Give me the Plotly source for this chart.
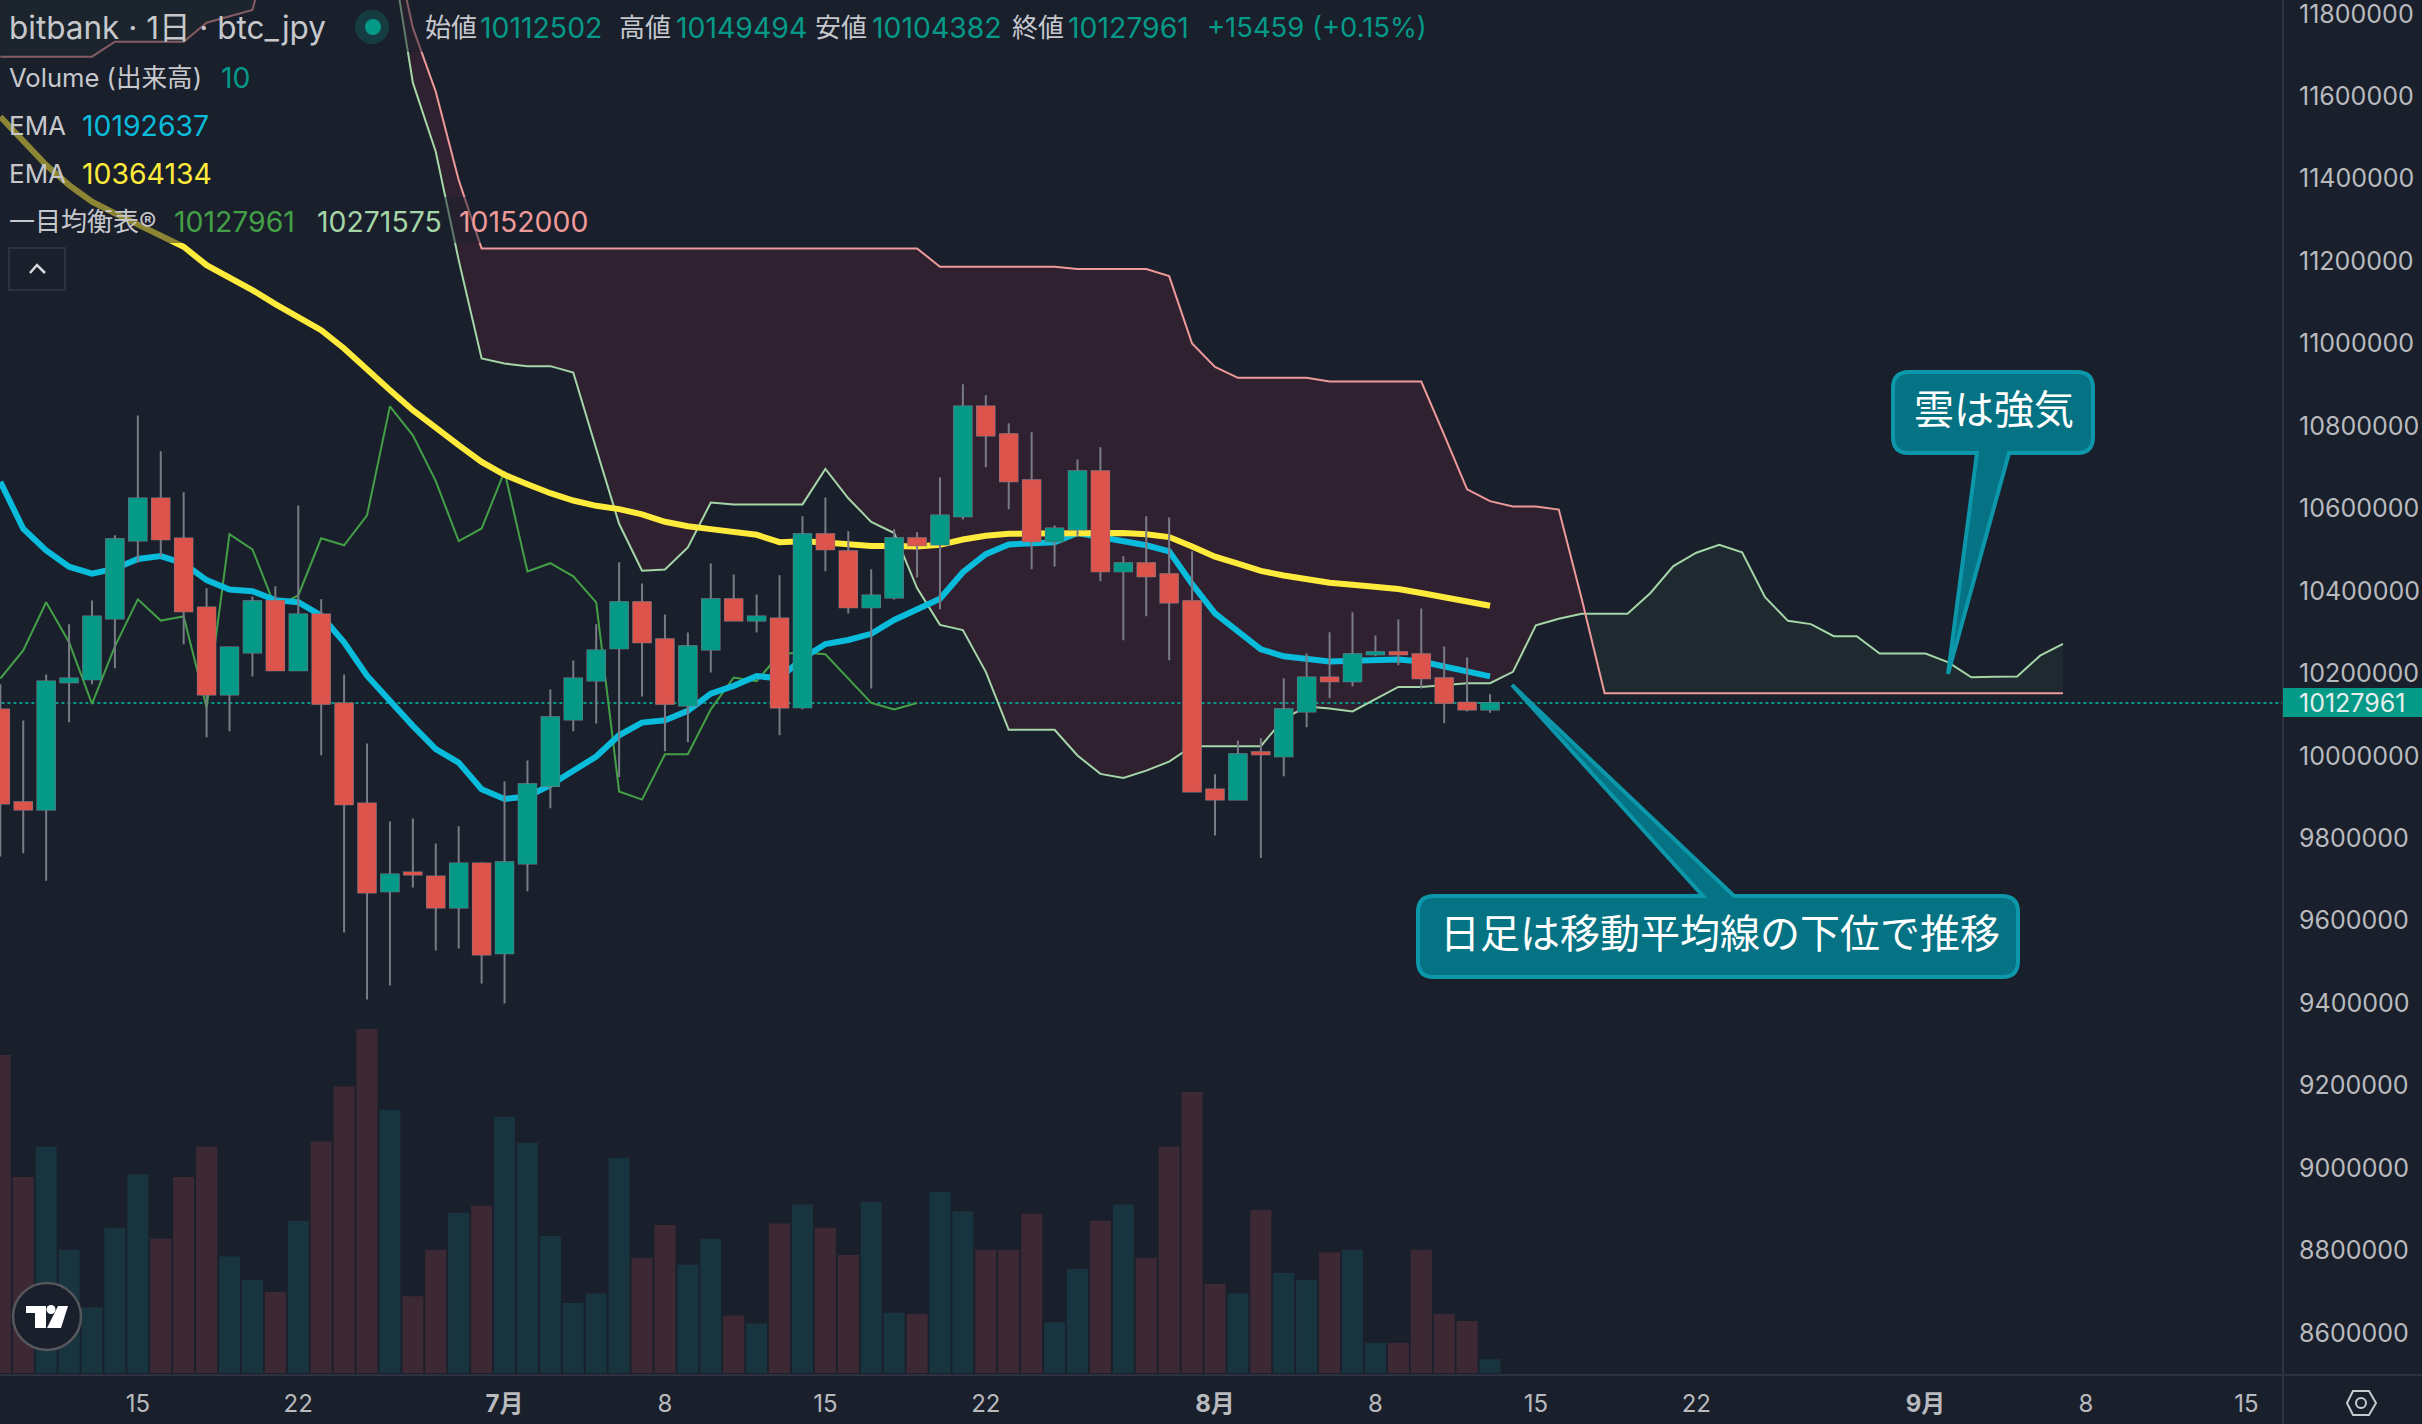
import numpy as np
import pandas as pd
import plotly.graph_objects as go

# Daily candles, 9 June to 13 August
opens = [
    10112100, 9887200, 9869400, 10178500, 10185400, 10333000, 10522200, 10624200, 10527200, 10359700, 10148700,
    10250800, 10375600, 10207200, 10342900, 10127000, 9884300, 9671300, 9716800, 9706900, 9631700, 9738600,
    9520700, 9738600, 9926900, 10088300, 10182400, 10260700, 10372600, 10282500, 10122000, 10257700, 10379600,
    10328000, 10333000, 10117500, 10537600, 10496000, 10360200, 10384000, 10527700, 10512800, 10581100, 10847600,
    10780300, 10668300, 10520700, 10549400, 10690100, 10447400, 10467200, 10440500, 10375100,
    9918400, 9893700, 10008600, 9998700, 10107600, 10189900, 10180900, 10246300, 10251300, 10246300, 10187900,
    10128400, 10112502,
]
highs = [
    10173500, 10085400, 10197300, 10319100, 10376600, 10535100, 10825300, 10739100, 10639100, 10406300, 10265600,
    10386500, 10411300, 10607400, 10379600, 10197300, 10029900, 9840700, 9847600, 9787200, 9828800, 9741600,
    9937800, 9988300, 10160600, 10231000, 10319100, 10469700, 10418200, 10342900, 10299300, 10466700, 10440000,
    10391400, 10438000, 10581100, 10626700, 10544500, 10452400, 10549400, 10542500, 10675300, 10901100, 10874400,
    10807000, 10785200, 10559400, 10718800, 10748600, 10484100, 10581100, 10578200, 10496000,
    9955100, 10037300, 10042300, 10187900, 10248300, 10299800, 10348400, 10291900, 10330500, 10357300, 10265100,
    10238400, 10149494,
]
lows = [
    9755500, 9763400, 9697000, 10081400, 10173500, 10212100, 10468700, 10483600, 10270600, 10044700, 10059600,
    10192300, 10206200, 10206200, 10001200, 9571200, 9408800, 9442500, 9680200, 9527600, 9532600, 9447400,
    9398900, 9671300, 9872400, 10059600, 10078400, 9948600, 10143800, 10011100, 10032800, 10202200, 10327000,
    10299300, 10049700, 10112600, 10447400, 10345400, 10163100, 10379100, 10432600, 10355300, 10573200, 10700000,
    10598000, 10452400, 10459300, 10533600, 10423600, 10280000, 10338500, 10231500, 9911500,
    9806500, 9891700, 9752000, 9950100, 10069000, 10139300, 10168100, 10241400, 10219600, 10163100, 10078900,
    10107600, 10104382,
]
closes = [
    9884300, 9869400, 10180400, 10187400, 10338000, 10525200, 10624200, 10525200, 10350800, 10148700, 10262700,
    10374600, 10207200, 10342900, 10126000, 9882300, 9668300, 9711900, 9711900, 9631700, 9738600, 9517700,
    9741600, 9930800, 10093300, 10187400, 10255700, 10372600, 10275500, 10126000, 10265600, 10379600, 10328000,
    10338000, 10117000, 10537600, 10500900, 10360200, 10389000, 10527700, 10510800, 10583100, 10847600, 10777300,
    10666300, 10520700, 10551400, 10690100, 10447400, 10467200, 10435500, 10372100, 9913500,
    9893700, 10003600, 10003600, 10112600, 10189900, 10180900, 10246300, 10251300, 10246300, 10187900, 10128400,
    10112502, 10127961,
]
volumes = [
    232, 143, 165, 90, 48, 106, 145, 98, 143, 165, 85, 68, 59, 111, 169, 209, 251, 192, 56, 90, 117, 122,
    187, 168, 100, 51, 58, 157, 84, 108, 79, 98, 42, 36, 109, 123, 106, 86, 125, 44, 43, 132, 118, 90, 90,
    116, 37, 76, 111, 123, 84, 165, 205,
    65, 58, 119, 73, 68, 88, 90, 22, 22, 90, 43, 38, 10,
]

# Moving averages, same dates as the candles
ema_fast = [
    10664900, 10550900, 10498400, 10458800, 10442000, 10453900, 10477600, 10484600, 10466700, 10426100, 10403300,
    10399400, 10377600, 10372600, 10339900, 10275500, 10194300, 10131900, 10072500, 10016000, 9983300, 9918900,
    9895200, 9901100, 9928800, 9963500, 9998200, 10049700, 10080400, 10086300, 10109100, 10150700, 10169600,
    10193300, 10188000, 10236400, 10271100, 10281000, 10295900, 10329500, 10353300, 10381000, 10445400, 10489000,
    10512800, 10513800, 10517700, 10540500, 10529600, 10520700, 10510800, 10496000, 10416700,
    10345400, 10299800, 10258200, 10241400, 10234400, 10228500, 10230500, 10232500, 10233400, 10228500, 10216600,
    10202700, 10192637,
]
ema_slow = [
    11550400, 11489800, 11433100, 11384600, 11344200, 11315800, 11287500, 11263300, 11234900, 11190400, 11160500,
    11129800, 11095800, 11065000, 11032700, 10988200, 10935600, 10887100, 10838500, 10794000, 10753600, 10713100,
    10681700, 10658900, 10637100, 10619300, 10606400, 10598500, 10585600, 10567800, 10556900, 10549900, 10543000,
    10536100, 10518200, 10520700, 10517700, 10512800, 10508800, 10508800, 10507800, 10511800, 10524700, 10533600,
    10538600, 10539500, 10539500, 10542500, 10542500, 10540500, 10537600, 10530600, 10507800,
    10483100, 10466200, 10448400, 10437500, 10428600, 10419700, 10414700, 10409800, 10404800, 10394900, 10384000,
    10372100, 10364134,
]

# Lagging span, 9 June to 19 July
lagging = [
    10187400, 10255700, 10372600, 10275500, 10126000, 10265600, 10379600, 10328000, 10338000, 10117000, 10537600,
    10500900, 10360200, 10389000, 10527700, 10510800, 10583100, 10847600, 10777300, 10666300, 10520700, 10551400,
    10690100, 10447400, 10467200, 10435500, 10372100, 9913500, 9893700, 10003600, 10003600, 10112600, 10189900,
    10180900, 10246300, 10251300, 10246300, 10187900, 10128400, 10112502, 10127961,
]

# Cloud spans, 9 June to 7 September (the first weeks sit above the top of the chart)
span_a = [
    12400000, 12400000, 12400000, 12400000, 12400000, 12400000, 12400000, 12400000, 12400000, 12400000, 12400000,
    12400000, 12400000, 12400000, 12400000, 12400000, 12100000, 11979000, 11633000, 11465500, 11202600, 10963900,
    10951700, 10945300, 10945300, 10929900, 10745000, 10562800, 10448900, 10451900, 10505400, 10614300, 10609400,
    10609400, 10609400, 10609900, 10696100, 10624700, 10567300, 10540500, 10406800, 10317600, 10304800, 10203700,
    10063100, 10063100, 10063100, 10000700, 9956100, 9946200, 9964000, 9985800, 10023400,
    10023400, 10023400, 10023400, 10089800, 10119500, 10114600, 10107600, 10137400, 10167100, 10167100, 10172000,
    10176000, 10176000, 10203600, 10316400, 10332500, 10344600, 10344600, 10344600, 10394900, 10460400, 10492600,
    10511700, 10493600, 10384800, 10327400, 10319400, 10290200, 10290200, 10247900, 10247900,
    10247900, 10226700, 10190500, 10191500, 10192500, 10242800, 10271575,
]
span_b = [
    11696100, 11696100, 11696100, 11696100, 11696100, 11732500, 11732500, 11732500, 11732500, 11778600, 11794800,
    11809300, 12018000, 12018000, 12018000, 12018000, 12018000, 12018000, 11766400, 11611100, 11396700, 11230900,
    11230900, 11230900, 11230900, 11230900, 11230900, 11230900, 11230900, 11230900, 11230900, 11230900, 11230900,
    11230900, 11230900, 11230900, 11230900, 11230900, 11230900, 11230900, 11230900, 11186300, 11186300, 11186300,
    11186300, 11186300, 11186300, 11180700, 11180700, 11180700, 11180700, 11163700, 11000300,
    10943600, 10917000, 10917000, 10917000, 10917000, 10908000, 10908000, 10908000, 10908000, 10908000, 10778300,
    10646500, 10617800, 10605000, 10605000, 10597300, 10380800, 10152000, 10152000, 10152000, 10152000, 10152000,
    10152000, 10152000, 10152000, 10152000, 10152000, 10152000, 10152000, 10152000, 10152000,
    10152000, 10152000, 10152000, 10152000, 10152000, 10152000, 10152000,
]

last_price = 10127961

price_ticks = [8600000, 8800000, 9000000, 9200000, 9400000, 9600000, 9800000, 10000000, 10200000, 10400000,
               10600000, 10800000, 11000000, 11200000, 11400000, 11600000, 11800000]
date_ticks = ["2024-06-15", "2024-06-22", "2024-07-01", "2024-07-08", "2024-07-15", "2024-07-22", "2024-08-01",
              "2024-08-08", "2024-08-15", "2024-08-22", "2024-09-01", "2024-09-08", "2024-09-15"]
date_labels = ["15", "22", "<b>7月</b>", "8", "15", "22", "<b>8月</b>", "8", "15", "22", "<b>9月</b>", "8", "15"]

# Colours
BG = "#1A1F2C"
TEAL = "#059988"
RED = "#DC544C"
VOL_TEAL = "#18343E"
VOL_RED = "#3D2933"
WICK = "#787B86"
TEXT = "#C6C8CC"
AXIS_TEXT = "#B8BABE"
BORDER = "#2E3240"
BUBBLE_FILL = "#057383"
BUBBLE_LINE = "#0C97AB"

# Size of the plot area in page pixels
PAGE_W, PAGE_H = 2422, 1424
PLOT_W, PLOT_H = 2283, 1375


def px(x):
    return x / PLOT_W


def py(y):
    return 1 - y / PLOT_H


def pt(x, y):
    return f"{px(x)} {py(y)}"


def bubble_path(x0, y0, x1, y1, r, base0, base1, tip, side):
    """Rounded box with a wedge tail, side says which edge the tail leaves from"""
    top = f"L {pt(base0, y0)} L {pt(*tip)} L {pt(base1, y0)} " if side == "top" else ""
    bottom = f"L {pt(base1, y1)} L {pt(*tip)} L {pt(base0, y1)} " if side == "bottom" else ""
    return (f"M {pt(x0 + r, y0)} {top}L {pt(x1 - r, y0)} Q {pt(x1, y0)} {pt(x1, y0 + r)} "
            f"L {pt(x1, y1 - r)} Q {pt(x1, y1)} {pt(x1 - r, y1)} {bottom}L {pt(x0 + r, y1)} "
            f"Q {pt(x0, y1)} {pt(x0, y1 - r)} L {pt(x0, y0 + r)} Q {pt(x0, y0)} {pt(x0 + r, y0)} Z")


def cloud_segments(dates, a, b):
    """Split the cloud where the two spans cross, so each part gets its own colour"""
    segments = []
    xs, lo, hi = [dates[0]], [min(a[0], b[0])], [max(a[0], b[0])]
    for i in range(1, len(dates)):
        da, db = a[i - 1] - b[i - 1], a[i] - b[i]
        if da * db < 0:
            t = da / (da - db)
            cross_x = dates[i - 1] + (dates[i] - dates[i - 1]) * t
            cross_y = a[i - 1] + (a[i] - a[i - 1]) * t
            xs.append(cross_x)
            lo.append(cross_y)
            hi.append(cross_y)
            segments.append((xs, lo, hi, da > 0))
            xs, lo, hi = [cross_x], [cross_y], [cross_y]
        xs.append(dates[i])
        lo.append(min(a[i], b[i]))
        hi.append(max(a[i], b[i]))
    segments.append((xs, lo, hi, a[-1] > b[-1]))
    return segments


candle_dates = pd.date_range("2024-06-09", periods=len(closes), freq="D")
span_dates = pd.date_range("2024-06-09", periods=len(span_a), freq="D")
lag_dates = pd.date_range("2024-06-09", periods=len(lagging), freq="D")

fig = go.Figure()

# Volume sits at the back on its own hidden axis
fig.add_trace(go.Bar(x=candle_dates, y=volumes, yaxis="y",
                     marker=dict(color=[VOL_TEAL if c >= o else VOL_RED for o, c in zip(opens, closes)],
                                 line=dict(width=0))))

# Cloud fill
for xs, lo, hi, bullish in cloud_segments(list(span_dates), span_a, span_b):
    fig.add_trace(go.Scatter(x=xs, y=lo, yaxis="y2", mode="lines", line=dict(width=0, color=BG)))
    fig.add_trace(go.Scatter(x=xs, y=hi, yaxis="y2", mode="lines", line=dict(width=0, color=BG),
                             fill="tonexty", fillcolor="#1E2A30" if bullish else "#302130"))

# Last price line
fig.add_trace(go.Scatter(x=["2024-06-08", "2024-09-17"], y=[last_price, last_price], yaxis="y2", mode="lines",
                         line=dict(color=TEAL, width=2, dash="dot")))

# Ichimoku lines
fig.add_trace(go.Scatter(x=span_dates, y=span_a, yaxis="y2", mode="lines", line=dict(color="#A5D6A7", width=2)))
fig.add_trace(go.Scatter(x=span_dates, y=span_b, yaxis="y2", mode="lines", line=dict(color="#EF9A9A", width=2)))
fig.add_trace(go.Scatter(x=lag_dates, y=lagging, yaxis="y2", mode="lines", line=dict(color="#43A047", width=2)))

# EMA lines
fig.add_trace(go.Scatter(x=candle_dates, y=ema_fast, yaxis="y2", mode="lines",
                         line=dict(color="#0ABCDC", width=6)))
fig.add_trace(go.Scatter(x=candle_dates, y=ema_slow, yaxis="y2", mode="lines",
                         line=dict(color="#FFEB3B", width=6)))

# Grey wicks first, then the coloured bodies on top of them
fig.add_trace(go.Candlestick(x=candle_dates, open=opens, high=highs, low=lows, close=closes, yaxis="y3",
                             whiskerwidth=0,
                             increasing=dict(line=dict(color=WICK, width=2), fillcolor=WICK),
                             decreasing=dict(line=dict(color=WICK, width=2), fillcolor=WICK)))
fig.add_trace(go.Candlestick(x=candle_dates, open=opens, close=closes,
                             high=[max(o, c) for o, c in zip(opens, closes)],
                             low=[min(o, c) for o, c in zip(opens, closes)],
                             yaxis="y3", whiskerwidth=0,
                             increasing=dict(line=dict(color=TEAL, width=1), fillcolor=TEAL),
                             decreasing=dict(line=dict(color=RED, width=1), fillcolor=RED)))

# Shapes: axis borders, legend dimming, callouts and the small icons
DIM = "rgba(26,31,44,0.5)"
shapes = [
    dict(type="rect", xref="paper", yref="paper", x0=0, x1=px(1430), y0=py(52), y1=py(0),
         fillcolor=DIM, line=dict(width=0)),
    dict(type="rect", xref="paper", yref="paper", x0=0, x1=px(260), y0=py(197), y1=py(52),
         fillcolor=DIM, line=dict(width=0)),
    dict(type="rect", xref="paper", yref="paper", x0=0, x1=px(590), y0=py(243), y1=py(197),
         fillcolor=DIM, line=dict(width=0)),
    # Axis borders
    dict(type="line", xref="paper", yref="paper", x0=0, x1=px(PAGE_W), y0=py(1375), y1=py(1375),
         line=dict(color=BORDER, width=2)),
    dict(type="line", xref="paper", yref="paper", x0=1, x1=1, y0=py(0), y1=py(PAGE_H),
         line=dict(color=BORDER, width=2)),
    # Last price tag
    dict(type="rect", xref="paper", yref="paper", x0=1, x1=px(PAGE_W), y0=py(717), y1=py(688),
         fillcolor=TEAL, line=dict(width=0)),
    # Callouts
    dict(type="path", xref="paper", yref="paper", fillcolor=BUBBLE_FILL, line=dict(color=BUBBLE_LINE, width=4),
         path=bubble_path(1893, 372, 2093, 453, 16, 1977, 2009, (1948, 674), "bottom")),
    dict(type="path", xref="paper", yref="paper", fillcolor=BUBBLE_FILL, line=dict(color=BUBBLE_LINE, width=4),
         path=bubble_path(1418, 896, 2018, 977, 16, 1703, 1734, (1512, 685), "top")),
    # Status dot
    dict(type="circle", xref="paper", yref="paper", x0=px(355), x1=px(389), y0=py(44), y1=py(10),
         fillcolor="rgba(8,153,129,0.25)", line=dict(width=0)),
    dict(type="circle", xref="paper", yref="paper", x0=px(365), x1=px(381), y0=py(35), y1=py(19),
         fillcolor=TEAL, line=dict(width=0)),
    # Collapse button
    dict(type="rect", xref="paper", yref="paper", x0=px(9), x1=px(65), y0=py(290), y1=py(248),
         fillcolor=BG, line=dict(color="#2E3240", width=2)),
    dict(type="path", xref="paper", yref="paper", line=dict(color="#D8DADD", width=2.5),
         path=f"M {pt(30, 273)} L {pt(37, 265)} L {pt(45, 273)}"),
    # TradingView badge
    dict(type="circle", xref="paper", yref="paper", x0=px(13), x1=px(81), y0=py(1350), y1=py(1283),
         fillcolor=BG, line=dict(color="#55575C", width=2.5)),
    dict(type="path", xref="paper", yref="paper", fillcolor="white", line=dict(width=0),
         path=(f"M {pt(26, 1306)} L {pt(46, 1306)} L {pt(46, 1328)} L {pt(35, 1328)} "
               f"L {pt(35, 1313)} L {pt(26, 1313)} Z")),
    dict(type="circle", xref="paper", yref="paper", x0=px(46.5), x1=px(55.5), y0=py(1314), y1=py(1305),
         fillcolor="white", line=dict(width=0)),
    dict(type="path", xref="paper", yref="paper", fillcolor="white", line=dict(width=0),
         path=f"M {pt(58, 1306)} L {pt(68, 1306)} L {pt(61, 1328)} L {pt(47, 1328)} Z"),
    # Settings icon
    dict(type="path", xref="paper", yref="paper", line=dict(color="#C8CACF", width=2),
         path=(f"M {pt(2347, 1403)} L {pt(2353, 1391)} L {pt(2369, 1391)} L {pt(2376, 1403)} "
               f"L {pt(2369, 1415)} L {pt(2353, 1415)} Z")),
    dict(type="circle", xref="paper", yref="paper", x0=px(2356), x1=px(2366), y0=py(1408), y1=py(1398),
         line=dict(color="#C8CACF", width=2)),
]

# Legend and callout text: left edge, middle, text, colour, size
FONT = "Inter, Noto Sans CJK JP"
labels = [
    (8, 27, "bitbank · 1日 · btc_jpy", TEXT, 31.5),
    (424, 27, "始値", TEXT, 26),
    (479, 27, "10112502", TEAL, 28.4),
    (618, 27, "高値", TEXT, 26),
    (675, 27, "10149494", TEAL, 28.4),
    (814, 27, "安値", TEXT, 26),
    (871, 27, "10104382", TEAL, 28.4),
    (1011, 27, "終値", TEXT, 26),
    (1067, 27, "10127961", TEAL, 28.4),
    (1206, 27, "+15459 (+0.15%)", TEAL, 27.4),
    (8, 77, "Volume (出来高)", TEXT, 25.6),
    (220, 77, "10", TEAL, 28.4),
    (8, 125, "EMA", TEXT, 26),
    (81, 125, "10192637", "#0ABCDC", 28.4),
    (8, 173, "EMA", TEXT, 26),
    (81, 173, "10364134", "#FFEB3B", 28.4),
    (8, 221, "一目均衡表®", TEXT, 26),
    (173, 221, "10127961", "#43A047", 28.4),
    (316, 221, "10271575", "#A5D6A7", 28.4),
    (458, 221, "10152000", "#EF9A9A", 28.4),
    (2298, 703, "10127961", "#E6EEEC", 25),
    (1913, 410, "雲は強気", "#FFFFFF", 40),
    (1439, 933, "日足は移動平均線の下位で推移", "#FFFFFF", 40),
]
annotations = [
    dict(xref="paper", yref="paper", x=px(x), y=py(y), text=text, showarrow=False, xanchor="left",
         yanchor="middle", borderpad=0, font=dict(family=FONT, color=color, size=size))
    for x, y, text, color, size in labels
]

fig.update_layout(
    width=PAGE_W,
    height=PAGE_H,
    margin=dict(l=0, r=PAGE_W - PLOT_W, t=0, b=PAGE_H - PLOT_H, autoexpand=False),
    paper_bgcolor=BG,
    plot_bgcolor=BG,
    showlegend=False,
    hovermode=False,
    bargap=0.08,
    boxgap=0.24,
    boxgroupgap=0,
    boxmode="overlay",
    font=dict(family=FONT),
    shapes=shapes,
    annotations=annotations,
    xaxis=dict(type="date", range=["2024-06-08 23:40", "2024-09-16 14:24"], showgrid=False, zeroline=False,
               tickmode="array", tickvals=date_ticks, ticktext=date_labels, tickangle=0, ticks="",
               ticklabelstandoff=12, tickfont=dict(size=24, color=AXIS_TEXT), rangeslider=dict(visible=False)),
    yaxis=dict(visible=False, range=[-1.5, 1002]),
    yaxis2=dict(overlaying="y", side="right", anchor="x", range=[8497700, 11833600], showgrid=False, zeroline=False,
                tickmode="array", tickvals=price_ticks, tickformat="d", ticks="", ticklabelstandoff=15,
                ticklabeloverflow="allow", tickfont=dict(size=25, color=AXIS_TEXT)),
    yaxis3=dict(overlaying="y", visible=False, range=[8497700, 11833600]),
)

fig.write_html("out.html", config={"displayModeBar": False},
               post_script="document.body.style.margin='0';document.body.style.overflow='hidden';")
